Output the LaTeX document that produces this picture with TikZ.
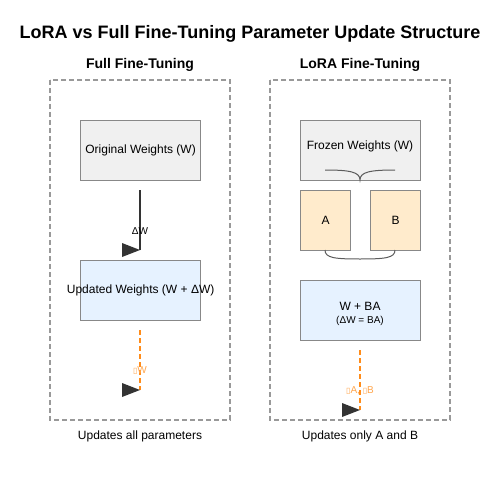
\documentclass[tikz,border=0pt]{standalone}
\usepackage{fontspec}
\setmainfont{Liberation Sans}
\newfontfamily\symfont{DejaVu Sans}
\usetikzlibrary{arrows.meta}
\definecolor{boxgray}{HTML}{F0F0F0}
\definecolor{boxstroke}{HTML}{888888}
\definecolor{panelstroke}{HTML}{999999}
\definecolor{lightblue}{HTML}{E6F2FF}
\definecolor{lightorange}{HTML}{FFEBCC}
\definecolor{arroworange}{HTML}{FF8C1A}
\definecolor{labelorange}{HTML}{FFA64D}
\definecolor{darkline}{HTML}{333333}
\tikzset{
  panel/.style={draw=panelstroke, line width=1.3pt, dash pattern=on 5pt off 3pt},
  wbox/.style={draw=boxstroke, line width=1.2pt, inner sep=0pt, anchor=north west},
  btxt/.style={font=\fontsize{12}{14}\selectfont, text=black},
  smalltxt/.style={font=\fontsize{10}{12}\selectfont},
  headtxt/.style={font=\bfseries\fontsize{14}{16}\selectfont},
  tri/.style={fill=darkline},
  darkarrow/.style={draw=darkline, line width=1.5pt},
  orangearrow/.style={draw=arroworange, line width=1.5pt, dash pattern=on 5pt off 3pt},
  brace/.style={draw=darkline!80, line width=1pt},
}
\newcommand{\tofu}{{\symfont\fontsize{8}{10}\selectfont ▯}}
\begin{document}
\begin{tikzpicture}[x=1pt,y=-1pt]
\useasboundingbox (0,0) rectangle (500,500);
\fill[white] (0,0) rectangle (500,500);
% title
\node[font=\bfseries\fontsize{18}{21}\selectfont] (title) at (250,34) {LoRA vs Full Fine-Tuning Parameter Update Structure};
\node[headtxt] (hleft) at (140,65) {Full Fine-Tuning};
\node[headtxt] (hright) at (360,65) {LoRA Fine-Tuning};
% panels
\draw[panel] (50,80) rectangle (230,420);
\draw[panel] (270,80) rectangle (450,420);
% left boxes
\node[wbox, fill=boxgray, minimum width=120pt, minimum height=60pt] (orig) at (80,120) {};
\node[btxt] at (orig.center) {Original Weights (W)};
\node[wbox, fill=lightblue, minimum width=120pt, minimum height=60pt] (upd) at (80,260) {};
\node[btxt] at (upd.center) {Updated Weights (W + ΔW)};
% left arrows
\coordinate (l1s) at (140,190);
\coordinate (l1e) at (140,250);
\draw[darkarrow] (l1s) -- (l1e);
\fill[tri] (122,243) -- (140,250) -- (122,257) -- cycle;
\node[smalltxt] (dw) at (140,231) {ΔW};
\coordinate (l2s) at (140,330);
\coordinate (l2e) at (140,390);
\draw[orangearrow] (l2s) -- (l2e);
\fill[tri] (122,383) -- (140,390) -- (122,397) -- cycle;
\node[smalltxt, text=labelorange] (gw) at (140,371) {\tofu W};
% right boxes
\node[wbox, fill=boxgray, minimum width=120pt, minimum height=60pt] (frozen) at (300,120) {};
\node[btxt] at (360,146) {Frozen Weights (W)};
\node[wbox, fill=lightorange, minimum width=50pt, minimum height=60pt] (a) at (300,190) {};
\node[btxt] at (a.center) {A};
\node[wbox, fill=lightorange, minimum width=50pt, minimum height=60pt] (b) at (370,190) {};
\node[btxt] at (b.center) {B};
\node[wbox, fill=lightblue, minimum width=120pt, minimum height=60pt] (wba) at (300,280) {};
\node[btxt] at (360,306) {W + BA};
\node[smalltxt] at (360,321) {(ΔW = BA)};
% braces
\draw[brace] (325,170) .. controls (350,170) and (360,172) .. (360,180) .. controls (360,172) and (370,170) .. (395,170);
\draw[brace] (325,250) .. controls (325,258) and (335,259) .. (360,259) .. controls (385,259) and (395,258) .. (395,250);
% right arrow
\coordinate (r1s) at (360,350);
\coordinate (r1e) at (360,410);
\draw[orangearrow] (r1s) -- (r1e);
\fill[tri] (342,403) -- (360,410) -- (342,417) -- cycle;
\node[smalltxt, text=labelorange] (gab) at (360,391) {\tofu A, \tofu B};
% captions
\node[btxt] (cl) at (140,436) {Updates all parameters};
\node[btxt] (cr) at (360,436) {Updates only A and B};
\end{tikzpicture}
\end{document}
